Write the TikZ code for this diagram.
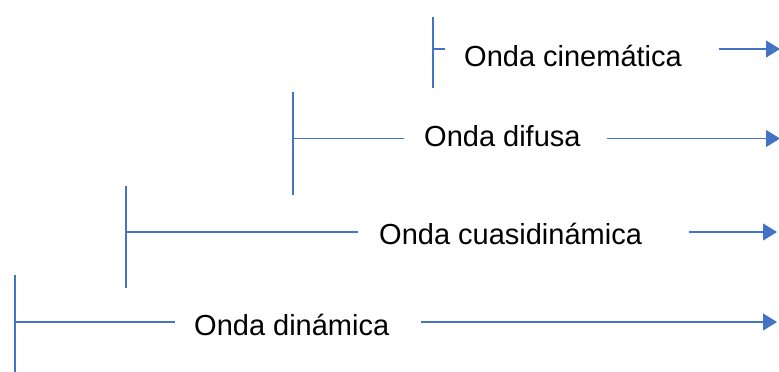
\documentclass[tikz,border=0pt]{standalone}
\usepackage{fontspec}
\setmainfont{Liberation Sans}
\usetikzlibrary{arrows.meta}
\definecolor{lineblue}{HTML}{4472C4}
\tikzset{
  wire/.style={draw=lineblue, line width=1.1pt},
  arrowwire/.style={wire, -{Triangle[length=14pt,width=17pt]}},
  label/.style={anchor=base west, inner sep=0pt, text=black, font=\fontsize{29}{34}\selectfont}
}
\begin{document}
\begin{tikzpicture}[x=1pt,y=-1pt]
\useasboundingbox (0,0) rectangle (779,372);
% row 1
\coordinate (b1t) at (433,17);
\coordinate (b1b) at (433,88);
\coordinate (h1s) at (433,49);
\coordinate (h1e) at (445,49);
\node[label] (t1) at (464,66) {Onda cinemática};
\coordinate (a1s) at (719,49);
\coordinate (a1e) at (780,49);
% row 2
\coordinate (b2t) at (293,92);
\coordinate (b2b) at (293,195);
\coordinate (h2s) at (293,138.5);
\coordinate (h2e) at (404,138.5);
\node[label] (t2) at (424,146) {Onda difusa};
\coordinate (a2s) at (607,138.5);
\coordinate (a2e) at (780,138.5);
% row 3
\coordinate (b3t) at (126,186);
\coordinate (b3b) at (126,288);
\coordinate (h3s) at (126,232);
\coordinate (h3e) at (358,232);
\node[label] (t3) at (379,244) {Onda cuasidinámica};
\coordinate (a3s) at (689,232);
\coordinate (a3e) at (777,232);
% row 4
\coordinate (b4t) at (15,275);
\coordinate (b4b) at (15,372);
\coordinate (h4s) at (15,322);
\coordinate (h4e) at (175,322);
\node[label] (t4) at (194,335) {Onda dinámica};
\coordinate (a4s) at (421,322);
\coordinate (a4e) at (777,322);
% lines
\foreach \i in {1,2,3,4}{
  \draw[wire] (b\i t) -- (b\i b);
  \draw[wire] (h\i s) -- (h\i e);
  \draw[arrowwire] (a\i s) -- (a\i e);
}
\end{tikzpicture}
\end{document}
